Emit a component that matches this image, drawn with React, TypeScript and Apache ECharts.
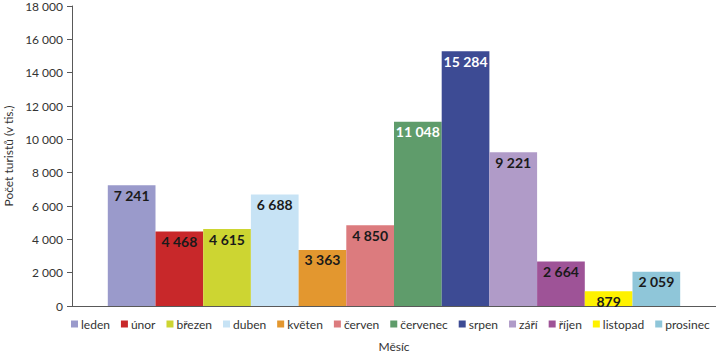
import React, { useEffect, useRef } from "react";
import * as echarts from "echarts";

const months = ["leden", "únor", "březen", "duben", "květen", "červen", "červenec", "srpen", "září", "říjen", "listopad", "prosinec"];
const values = [7241, 4468, 4615, 6688, 3363, 4850, 11048, 15284, 9221, 2664, 879, 2059];
const colors = ["#9a9acb", "#c8282a", "#cdd532", "#c7e3f5", "#e3972f", "#dc7b7e", "#5f9c6b", "#3d4b94", "#b09bc8", "#9e5397", "#fff200", "#8fc6d9"];
const labelColors = ["#1a1a1a", "#1a1a1a", "#1a1a1a", "#1a1a1a", "#1a1a1a", "#1a1a1a", "#ffffff", "#ffffff", "#1a1a1a", "#1a1a1a", "#1a1a1a", "#1a1a1a"];
const yTicks = { min: 0, max: 18000, interval: 2000 };

const fmt = (v: number) => String(v).replace(/\B(?=(\d{3})+(?!\d))/g, " ");

export default function App() {
  const ref = useRef<HTMLDivElement>(null);
  useEffect(() => {
    if (!ref.current) return;
    const chart = echarts.init(ref.current, null, { renderer: "svg" });
    const font = "Lato, 'Noto Sans', sans-serif";
    chart.setOption({
      animation: false,
      textStyle: { fontFamily: font },
      grid: { left: 72, right: 0, top: 6, bottom: 48, containLabel: false, outerBoundsMode: "none" },
      legend: {
        bottom: 19,
        left: 66,
        icon: "rect",
        itemWidth: 7,
        itemHeight: 7,
        itemGap: 11,
        textStyle: { fontSize: 12, color: "#333333", fontFamily: font, padding: [0, 0, 0, -2] },
        data: months,
      },
      xAxis: {
        type: "category",
        data: [""],
        name: "Měsíc",
        nameLocation: "middle",
        nameGap: 34,
        nameTextStyle: { fontSize: 12, color: "#333333", fontFamily: font },
        axisLine: { lineStyle: { color: "#595959", width: 1 } },
        axisTick: { show: false },
        axisLabel: { show: false },
      },
      yAxis: {
        type: "value",
        min: yTicks.min,
        max: yTicks.max,
        interval: yTicks.interval,
        name: "Počet turistů (v tis.)",
        nameLocation: "middle",
        nameGap: 55,
        nameTextStyle: { fontSize: 12, color: "#333333", fontFamily: font },
        axisLine: { show: true, lineStyle: { color: "#595959", width: 1 } },
        axisTick: { show: true, length: 5, lineStyle: { color: "#595959" } },
        splitLine: { show: false },
        axisLabel: { fontSize: 12, color: "#333333", margin: 9, fontFamily: font, formatter: (v: number) => fmt(v) },
      },
      series: months.map((m, i) => ({
        name: m,
        type: "bar",
        data: [values[i]],
        barWidth: 47.7,
        barGap: "0%",
        itemStyle: { color: colors[i] },
        label: {
          show: true,
          position: "insideTop",
          distance: 3,
          formatter: (p: any) => fmt(p.value),
          fontSize: 14,
          fontWeight: "bold",
          color: labelColors[i],
          fontFamily: font,
        },
      })),
    });
    return () => chart.dispose();
  }, []);
  return <div ref={ref} style={{ position: "fixed", left: 0, top: 0, width: 716, height: 354, background: "#fff" }} />;
}
